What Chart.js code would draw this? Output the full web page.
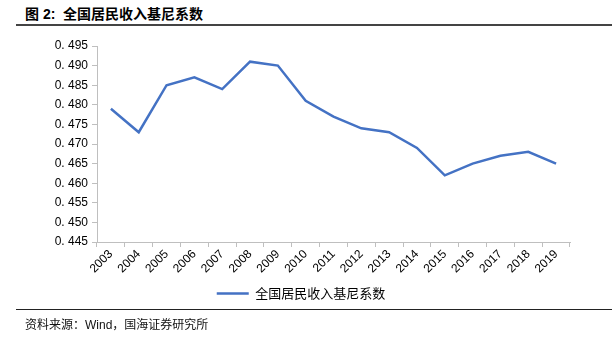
<!DOCTYPE html>
<html>
<head>
<meta charset="utf-8">
<script src="https://cdn.jsdelivr.net/npm/chart.js@4"></script>
<style>
body { margin: 0; background: #fff; width: 616px; height: 340px; position: relative; overflow: hidden; }
#title { position: absolute; left: 25px; top: 3px; font: bold 14px "Liberation Sans", "Noto Sans CJK SC", sans-serif; color: #000; }
#title-line { position: absolute; left: 16px; top: 24px; width: 596px; height: 2px; background: #444; }
#foot-line { position: absolute; left: 16px; top: 309px; width: 596px; height: 1px; background: #222; }
#foot { position: absolute; left: 25px; top: 315px; font: 12px "Liberation Sans", "Noto Sans CJK SC", sans-serif; color: #111; }
#wrap { position: absolute; left: 0; top: 0; width: 616px; height: 340px; }
</style>
</head>
<body>
<div id="title">图 2:&nbsp; 全国居民收入基尼系数</div>
<div id="title-line"></div>
<div id="wrap"><canvas id="gini_chart"></canvas></div>
<div id="foot-line"></div>
<div id="foot">资料来源：Wind，国海证券研究所</div>
<script>
var years = ['2003', '2004', '2005', '2006', '2007', '2008', '2009', '2010', '2011', '2012', '2013', '2014', '2015', '2016', '2017', '2018', '2019'];
var giniData = [0.479, 0.473, 0.485, 0.487, 0.484, 0.491, 0.490, 0.481, 0.477, 0.474, 0.473, 0.469, 0.462, 0.465, 0.467, 0.468, 0.465];
var seriesName = '全国居民收入基尼系数';
var yMin = 0.445, yMax = 0.495, yStep = 0.005;

var axisColor = '#bfbfbf';
var tickFont = { family: 'Liberation Sans, Noto Sans CJK SC', size: 12 };

// nudge the legend a bit to the right, like the original
var legendShift = {
    id: 'legendShift',
    afterLayout: function (chart) {
        if (chart.legend) {
            chart.legend.left += 16;
            chart.legend.right += 16;
        }
    }
};

var gini_ctx = document.getElementById('gini_chart').getContext('2d');
var gini_chart = new Chart(gini_ctx, {
    type: 'line',
    data: {
        labels: years,
        datasets: [{
            label: seriesName,
            data: giniData,
            borderColor: '#4472C4',
            backgroundColor: '#4472C4',
            borderWidth: 2.5,
            pointRadius: 0,
            tension: 0
        }]
    },
    plugins: [legendShift],
    options: {
        responsive: true,
        maintainAspectRatio: false,
        animation: false,
        layout: { padding: { left: 0, top: 46, right: 46, bottom: 30 } },
        plugins: {
            legend: {
                display: true,
                position: 'bottom',
                labels: {
                    boxWidth: 32,
                    boxHeight: 0,
                    padding: 6,
                    color: '#000',
                    font: { family: 'Noto Sans CJK SC', size: 13 },
                    generateLabels: function (chart) {
                        return [{
                            text: seriesName,
                            strokeStyle: '#4472C4',
                            fillStyle: '#4472C4',
                            lineWidth: 2.5,
                            datasetIndex: 0
                        }];
                    }
                }
            },
            tooltip: { enabled: false }
        },
        scales: {
            x: {
                offset: true,
                grid: { drawOnChartArea: false, drawTicks: true, tickLength: 5, color: axisColor, offset: true },
                border: { color: axisColor, width: 1 },
                ticks: { color: '#000', font: tickFont, minRotation: 45, maxRotation: 45, padding: 0, autoSkip: false },
                afterFit: function (scale) { scale.height = 39; }
            },
            y: {
                min: yMin,
                max: yMax,
                grid: { drawOnChartArea: false, drawTicks: true, tickLength: 5, color: axisColor },
                border: { color: axisColor, width: 1 },
                ticks: {
                    stepSize: yStep,
                    color: '#000',
                    font: tickFont,
                    padding: 4,
                    callback: function (value) {
                        return value.toFixed(3).replace('.', '. ');
                    }
                },
                afterFit: function (scale) { scale.width = 97; }
            }
        }
    }
});
</script>
</body>
</html>
